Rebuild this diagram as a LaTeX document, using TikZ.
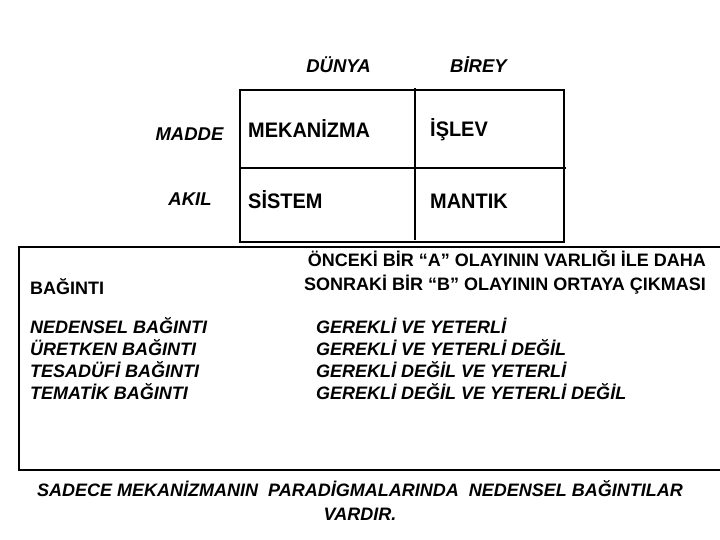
\documentclass[tikz,border=0pt]{standalone}
\usepackage{fontspec}
\setmainfont{Liberation Sans}
\newfontfamily\cellfont[FakeStretch=0.95]{Liberation Sans}
\begin{document}
\begin{tikzpicture}[x=1pt,y=-1pt,
  hdr/.style={font=\fontsize{18.5}{22}\selectfont\bfseries\itshape, inner sep=0pt, anchor=base},
  cell/.style={font=\cellfont\fontsize{21}{24}\selectfont\bfseries, inner sep=0pt, anchor=base west},
  lbl/.style={font=\fontsize{18}{22}\selectfont\bfseries, inner sep=0pt},
  lst/.style={font=\fontsize{18}{22}\selectfont\bfseries\itshape, inner sep=0pt, anchor=base west},
  frame/.style={line width=1.1pt}]
\useasboundingbox (0,0) rectangle (720,540);
% header labels
\node[hdr] (dunya) at (338.5,72.5) {DÜNYA};
\node[hdr] (birey) at (478.5,72.5) {BİREY};
\node[hdr] (madde) at (189.5,140.5) {MADDE};
\node[hdr] (akil) at (190,206) {AKIL};
% grid
\draw[frame] (240,90) rectangle (564,242);
\draw[frame] (415,88) -- (415,240);
\draw[frame] (240,168) -- (566,168);
\node[cell] (mek) at (248,137.5) {MEKANİZMA};
\node[cell] (islev) at (430,137) {İŞLEV};
\node[cell] (sis) at (248,208) {SİSTEM};
\node[cell] (man) at (430,208) {MANTIK};
% lower box
\draw[frame] (720,247) -- (19,247) -- (19,470) -- (720,470);
\node[lbl, anchor=base west] (bag) at (30,294.5) {BAĞINTI};
\node[lbl, anchor=base east] (def1) at (706,266) {ÖNCEKİ BİR “A” OLAYININ VARLIĞI İLE DAHA};
\node[lbl, anchor=base east] (def2) at (706,290.5) {SONRAKİ BİR “B” OLAYININ ORTAYA ÇIKMASI};
\node[lst] (l1) at (30,333) {NEDENSEL BAĞINTI};
\node[lst] (l2) at (30,355) {ÜRETKEN BAĞINTI};
\node[lst] (l3) at (30,377) {TESADÜFİ BAĞINTI};
\node[lst] (l4) at (30,399) {TEMATİK BAĞINTI};
\node[lst] (r1) at (316,333) {GEREKLİ VE YETERLİ};
\node[lst] (r2) at (316,355) {GEREKLİ VE YETERLİ DEĞİL};
\node[lst] (r3) at (316,377) {GEREKLİ DEĞİL VE YETERLİ};
\node[lst] (r4) at (316,399) {GEREKLİ DEĞİL VE YETERLİ DEĞİL};
% bottom note
\node[lst, anchor=base] (note1) at (360,496) {SADECE MEKANİZMANIN\ \ PARADİGMALARINDA\ \ NEDENSEL BAĞINTILAR};
\node[lst, anchor=base] (note2) at (360,520) {VARDIR.};
\end{tikzpicture}
\end{document}
